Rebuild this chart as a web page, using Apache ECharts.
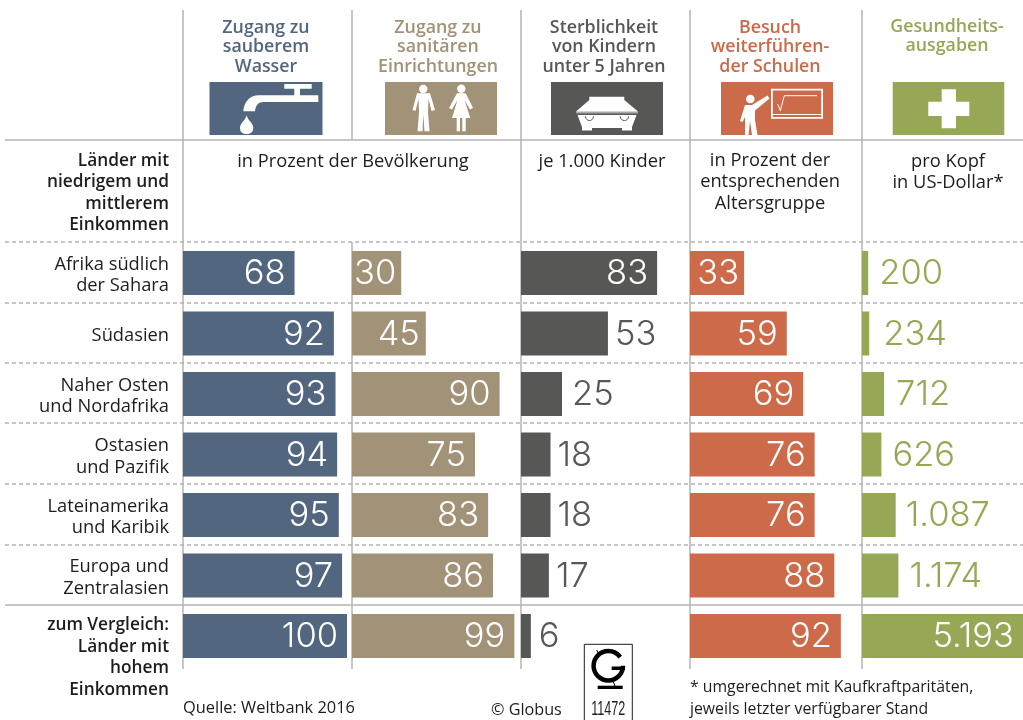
<!DOCTYPE html>
<html lang="de">
<head>
<meta charset="utf-8">
<title>Globus 11472</title>
<script src="https://cdn.jsdelivr.net/npm/echarts@6/dist/echarts.min.js"></script>
<style>html,body{margin:0;padding:0;background:#fff}#chart{width:1023px;height:720px}</style>
</head>
<body>
<div id="chart"></div>
<script>
// Regions, top to bottom
const regions = ['Afrika südlich\nder Sahara', 'Südasien', 'Naher Osten\nund Nordafrika', 'Ostasien\nund Pazifik', 'Lateinamerika\nund Karibik', 'Europa und\nZentralasien', 'zum Vergleich:\nLänder mit\nhohem\nEinkommen'];
// Indicator values per region
const water = [68, 92, 93, 94, 95, 97, 100];
const sanitation = [30, 45, 90, 75, 83, 86, 99];
const mortality = [83, 53, 25, 18, 18, 17, 6];
const school = [33, 59, 69, 76, 76, 88, 92];
const health = [200, 234, 712, 626, 1087, 1174, 5193];

const FONT = '"Open Sans"';
const NUMFONT = 'Inter';
const BLUE = '#53667f', TAN = '#a29277', DARK = '#575756', ORANGE = '#cc6a4a', GREEN = '#96a855', RULE = '#b4b4b4', INK = '#1d1d1b';

// One panel per indicator; gaps holds the distance of labels set outside their bar,
// inner overrides the distance of labels inside short bars
const panels = [
  { data: water, left: 183, width: 164, max: 100, color: BLUE, gaps: {}, inner: {} },
  { data: sanitation, left: 352, width: 164, max: 100, color: TAN, gaps: {}, inner: { 0: 5, 1: 6 } },
  { data: mortality, left: 521, width: 164, max: 100, color: DARK, gaps: { 1: 7, 2: 10, 3: 7, 4: 7, 5: 7, 6: 8 }, inner: {} },
  { data: school, left: 690, width: 164, max: 100, color: ORANGE, gaps: {}, inner: { 0: 5 } },
  { data: health, left: 862, width: 161, max: 5193, color: GREEN, gaps: { 0: 11, 1: 14, 2: 12, 3: 11, 4: 10, 5: 11 }, inner: {} }
];
const fmt = v => String(v).replace(/\B(?=(\d{3})+$)/g, '.');

const grids = [], xAxes = [], yAxes = [], series = [];
panels.forEach((p, i) => {
  grids.push({ left: p.left, width: p.width, top: 242.75, height: 423.5 });
  xAxes.push({ gridIndex: i, type: 'value', min: 0, max: p.max, show: false });
  const yAxis = { gridIndex: i, type: 'category', data: regions, inverse: true, show: false };
  if (i === 0) {
    Object.assign(yAxis, {
      show: true, axisLine: { show: false }, axisTick: { show: false },
      axisLabel: {
        interval: 0, hideOverlap: false,
        margin: 14, align: 'right', color: INK, padding: [5, 0, 0, 0],
        fontFamily: FONT, fontSize: 18.3, lineHeight: 21.5,
        formatter: (v, idx) => idx === 6
          ? '{e| }\n{e| }\n' + v.split('\n').map(s => '{b|' + s + '}').join('\n')
          : v,
        rich: {
          e: { lineHeight: 19, fontSize: 1 },
          b: { fontFamily: FONT, fontWeight: 600, fontSize: 17.3, lineHeight: 21.5, color: INK, align: 'right' }
        }
      }
    });
  }
  yAxes.push(yAxis);
  series.push({
    type: 'bar', xAxisIndex: i, yAxisIndex: i, barWidth: 44, silent: true,
    itemStyle: { color: p.color },
    data: p.data.map((v, k) => {
      const out = k in p.gaps;
      return {
        value: v,
        label: {
          show: true, position: out ? 'right' : 'insideRight',
          distance: out ? p.gaps[k] : (k in p.inner ? p.inner[k] : 9), offset: [0, 1],
          formatter: fmt(v),
          color: out ? p.color : '#fff',
          fontFamily: NUMFONT, fontWeight: 300, fontSize: 34.5
        }
      };
    })
  });
});

// Rules
const line = (x1, y1, x2, y2, dash) => ({
  type: 'line', silent: true, z: 1,
  shape: { x1, y1, x2, y2 },
  style: { stroke: RULE, lineWidth: 1.5, lineDash: dash ? [4, 3] : null }
});
const g = [];
[183, 521, 690, 862].forEach(x => g.push(line(x, 10, x, 669)));
g.push(line(352, 10, 352, 140), line(352, 242, 352, 669));
g.push(line(5, 140, 1023, 140), line(5, 605, 1023, 605));
[242, 303, 363, 423, 484, 545].forEach(y => g.push(line(5, y, 1023, y, true)));

// Text blocks
const txt = (x, y, text, o = {}) => ({
  type: 'text', silent: true, z: 5, x, y,
  style: {
    text, fill: o.fill || INK, font: `${o.weight || 400} ${o.size || 18.3}px ${o.family || FONT}`,
    align: o.align || 'center', verticalAlign: 'top', lineHeight: o.lh || 21.5
  }
});
const head = { weight: 600, lh: 19.5, size: 17.8 };
g.push(txt(266, 18, 'Zugang zu\nsauberem\nWasser', { ...head, fill: BLUE }));
g.push(txt(438, 18, 'Zugang zu\nsanitären\nEinrichtungen', { ...head, fill: TAN }));
g.push(txt(604, 18, 'Sterblichkeit\nvon Kindern\nunter 5 Jahren', { ...head, fill: DARK }));
g.push(txt(770, 18, 'Besuch\nweiterführen-\nder Schulen', { ...head, fill: ORANGE }));
g.push(txt(947, 18, 'Gesundheits-\nausgaben', { ...head, lh: 18.5, fill: GREEN }));
g.push(txt(353, 151, 'in Prozent der Bevölkerung'));
g.push(txt(602, 151, 'je 1.000 Kinder'));
g.push(txt(770, 150, 'in Prozent der\nentsprechenden\nAltersgruppe'));
g.push(txt(948, 151, 'pro Kopf\nin US-Dollar*'));
g.push(txt(169, 150, 'Länder mit\nniedrigem und\nmittlerem\nEinkommen', { weight: 600, size: 17.3, align: 'right' }));
g.push(txt(183, 698, 'Quelle: Weltbank 2016', { size: 16.4, align: 'left' }));
g.push(txt(491, 700, '© Globus', { size: 16.2, align: 'left' }));
g.push(txt(690, 677, '* umgerechnet mit Kaufkraftparitäten,\njeweils letzter verfügbarer Stand', { size: 15.8, align: 'left' }));

// Pictograms, built from SVG path strings
let shapeCount = 0;
const icon = (d, style) => {
  const name = 'pictogram' + (shapeCount++);
  echarts.graphic.registerShape(name, echarts.graphic.extendPath(d));
  return { type: name, silent: true, z: 3, style: style || { fill: '#fff' } };
};
const stroked = (stroke, lineWidth) => ({ fill: 'none', stroke, lineWidth });
const box = (x, w, fill) => ({ type: 'rect', silent: true, z: 2, shape: { x, y: 82, width: w, height: 53 }, style: { fill } });
const dot = (cx, cy, r) => ({ type: 'circle', silent: true, z: 3, shape: { cx, cy, r }, style: { fill: '#fff' } });
g.push(box(209.5, 113, BLUE), box(385, 112, TAN), box(551, 112, DARK), box(721, 112, ORANGE), box(892.7, 111.6, GREEN));
// water tap
g.push(icon('M284.3 84H311.7V88.7H300V95.3H318.3V102H263C258 102 255.5 106 255 111.3H243.3C244 102 250 95.3 258.3 95.3H294.3V88.7H284.3Z'));
g.push(icon('M246.7 115.3C248 121 253.3 123 253.3 128C253.3 132 250 134 246.7 134C243 134 240 132 240 128C240 123 245 121 246.7 115.3Z'));
// restroom figures
g.push(dot(423.3, 89, 4.2), dot(461.3, 88.7, 4.2));
g.push(icon('M417 93.3H430L435 110L431.5 111L428.5 99L428 112L429.5 131.3H424.5L423.3 114L422.5 131.3H417.5L419 112L418.5 99L415.5 111L412.5 110Z'));
g.push(icon('M457 93.3H465.7L473 108L470 109.5L464.5 100L470.3 118H465.7V131.3H462.3V118H460V131.3H456.7V118H452L457.5 100L452 109.5L449 108Z'));
// coffin
g.push(icon('M589.3 96.7H624.3V100L637.7 111.3V113H576.3V111.3L589.3 100Z'));
g.push(icon('M577.5 115H636.5L632 127V130.5H622V128H592V130.5H582V127Z'));
g.push(icon('M576 112.6H638', stroked('#a8a8a6', 2)));
g.push(icon('M585.3 116.3C586 122 593 122 593.5 116.3', stroked(DARK, 1)));
g.push(icon('M620 116.3C621 122 628 122 628.7 116.3', stroked(DARK, 1)));
// teacher at the blackboard
g.push(dot(750.3, 99, 4.3));
g.push(icon('M745 105H752L767.5 95.5L769.5 98.5L755 110.5V120L757.5 135H752L750 121L748.5 135H745V117L742.5 122L740 121Z'));
g.push(icon('M771.9 89.6H822.1V117.8H771.9Z', stroked('#fff', 1.8)));
g.push(icon('M772 114.5H822', stroked('#fff', 1)));
g.push(icon('M777.7 104L780.3 110.7L784.3 95.7H817', stroked('#fff', 1)));
// cross
g.push(icon('M941.7 89.3H956V101.7H969.3V116H956V128.3H941.7V116H928.3V101.7H941.7Z'));

// Globus mark
g.push(icon('M584.3 720V644.3H632.3V720', stroked(INK, 1)));
g.push({ type: 'arc', silent: true, z: 3, shape: { cx: 608.3, cy: 665.8, r: 14.7, startAngle: 0, endAngle: Math.PI * 1.8, clockwise: true }, style: { fill: 'none', stroke: '#000', lineWidth: 4.5 } });
g.push({ type: 'rect', silent: true, z: 3, shape: { x: 611.7, y: 666.5, width: 13.3, height: 3.5 }, style: { fill: '#000' } });
g.push({ type: 'rect', silent: true, z: 3, shape: { x: 597.7, y: 685.7, width: 25, height: 3.3 }, style: { fill: '#000' } });
g.push(icon('M613 681L615 686M596.7 650L599 655', stroked('#000', 1)));
const stamp = txt(0, 0, '11472', { size: 21, family: '"Liberation Sans"', lh: 20 });
stamp.x = 608.3; stamp.y = 699.5; stamp.scaleX = 0.6;
g.push(stamp);

const chart = echarts.init(document.getElementById('chart'), null, { renderer: 'canvas' });
chart.setOption({
  animation: false,
  backgroundColor: '#fff',
  grid: grids, xAxis: xAxes, yAxis: yAxes, series,
  graphic: { elements: g }
});
</script>
</body>
</html>
